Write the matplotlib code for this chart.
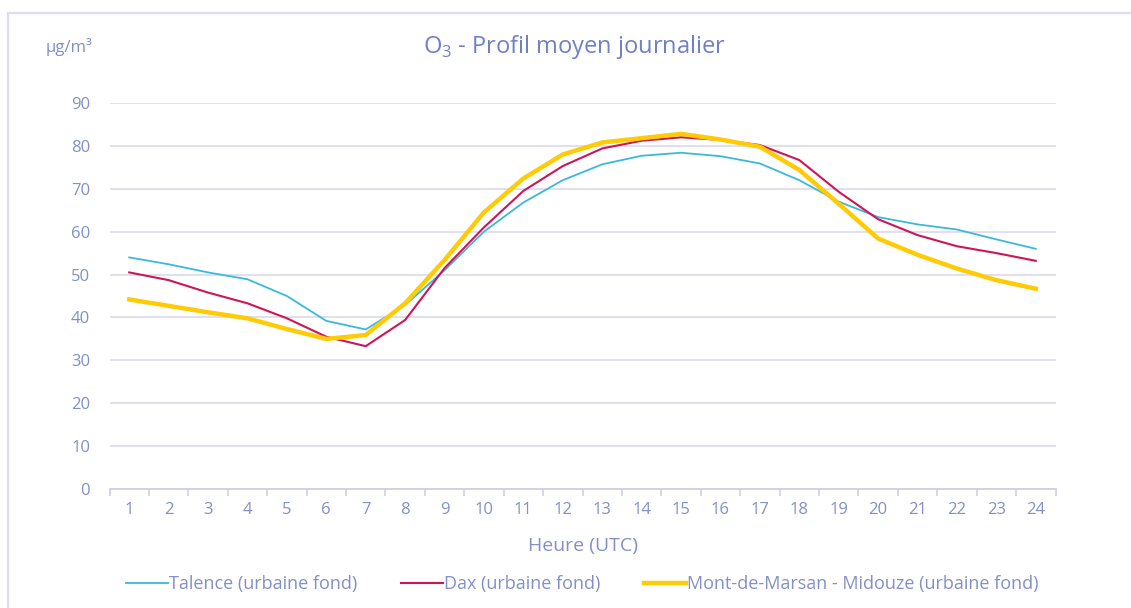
import matplotlib
matplotlib.use("Agg")
import matplotlib.pyplot as plt
from matplotlib.patches import Rectangle

plt.rcParams["font.family"] = ["Open Sans", "DejaVu Sans"]
plt.rcParams["mathtext.fontset"] = "custom"
plt.rcParams["mathtext.rm"] = "Open Sans"

# hourly mean O3 profile (µg/m3)
hours = list(range(1, 25))
talence = [54.0, 52.4, 50.5, 48.9, 45.0, 39.2, 37.2, 42.9, 51.0, 60.0, 66.8, 72.0,
           75.7, 77.7, 78.4, 77.6, 75.9, 72.0, 67.0, 63.4, 61.7, 60.5, 58.2, 56.0]
dax = [50.5, 48.7, 45.8, 43.3, 39.8, 35.5, 33.3, 39.4, 51.5, 61.0, 69.5, 75.3,
       79.4, 81.2, 82.0, 81.4, 80.2, 76.7, 69.3, 62.9, 59.2, 56.6, 55.0, 53.2]
mont = [44.2, 42.7, 41.2, 39.8, 37.3, 35.0, 35.9, 43.3, 53.4, 64.5, 72.4, 78.0,
        80.8, 81.8, 82.8, 81.5, 79.8, 74.4, 66.5, 58.4, 54.6, 51.4, 48.7, 46.7]

labels = ["Talence (urbaine fond)", "Dax (urbaine fond)",
          "Mont-de-Marsan - Midouze (urbaine fond)"]
yticks = list(range(0, 91, 10))

txt_col = "#8290c6"
grid_col = "#dcdcec"

fig = plt.figure(figsize=(11.31, 6.08), dpi=100)
W, H = 1131, 608

# card border
fig.patches.append(Rectangle((8 / W, -0.1), 1.2, (H - 13) / H + 0.1,
                             transform=fig.transFigure, fill=False,
                             edgecolor="#dddcf0", linewidth=1.6))

ax = fig.add_axes([109.5 / W, (H - 489) / H, 946 / W, 386 / H])

ax.plot(hours, talence, color="#3ab9d8", linewidth=1.3, label=labels[0], zorder=3)
ax.plot(hours, dax, color="#cc1656", linewidth=1.5, label=labels[1], zorder=4)
ax.plot(hours, mont, color="#ffcb05", linewidth=3.2, label=labels[2], zorder=5)

ax.set_xlim(0.5, 24.5)
ax.set_ylim(0, 90)
ax.set_yticks(yticks)
ax.set_xticks(hours)
ax.set_xticks([h + 0.5 for h in range(0, 25)], minor=True)
ax.grid(axis="y", color=grid_col, linewidth=1.3)
ax.set_axisbelow(True)
for s in ["top", "right", "left"]:
    ax.spines[s].set_visible(False)
ax.spines["bottom"].set_color("#d0d0e4")
ax.spines["bottom"].set_linewidth(1.3)
ax.tick_params(axis="x", which="major", length=0, pad=9, labelsize=12, labelcolor=txt_col)
ax.tick_params(axis="x", which="minor", length=5, width=1.2, color="#d0d0e4")
ax.tick_params(axis="y", length=0, pad=14, labelsize=12, labelcolor=txt_col)

ax.set_xlabel("Heure (UTC)", fontsize=14, color=txt_col, labelpad=14)

fig.text(575 / W, 1 - 47 / H, r"O$_\mathrm{3}$ - Profil moyen journalier",
         ha="center", va="center", fontsize=17, color="#6f80c6")
fig.text(69 / W, 1 - 47 / H, "µg/m³", ha="center", va="center",
         fontsize=12, color=txt_col)

leg = fig.legend(loc="center", bbox_to_anchor=(582.5 / W, 1 - 584 / H), ncol=3,
                 frameon=False, fontsize=13, handlelength=2.3, handletextpad=0.1,
                 columnspacing=2.4)
for t in leg.get_texts():
    t.set_color(txt_col)

fig.savefig("out.png", dpi=100, facecolor="white")
